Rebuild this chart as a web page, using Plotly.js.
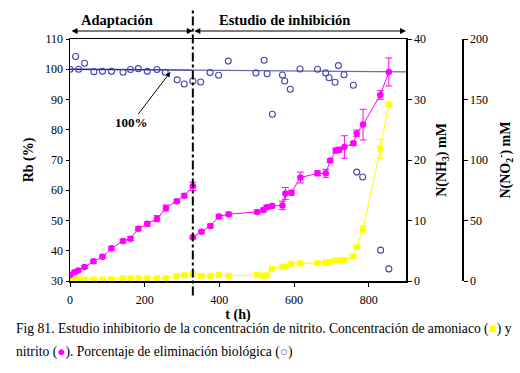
<!DOCTYPE html>
<html>
<head>
<meta charset="utf-8">
<script src="https://cdn.plot.ly/plotly-3.0.1.min.js"></script>
<style>html,body{margin:0;padding:0;background:#fff;}#chart{width:520px;height:373px;}</style>
</head>
<body>
<div id="chart"></div>
<script>
// ---- data ----
const rbTimes = [0,15,23,39,64,87,111,142,162,183,207,233,255,287,306,329,350,375,398,424,498,520,528,542,569,575,590,616,663,685,694,710,719,734,759,768,784,832,854];
const rbValues = [100,104.2,100,102,99.2,99.3,99.3,99,99.9,100.2,99.3,99.9,99,96.5,95.1,96.1,95.8,98.9,98,102.7,98.8,103,98.5,85.1,98.1,96.1,93.4,100.1,100,98.8,97.2,95.7,101.2,98.2,94.7,66,64.4,40.2,34];

const fitTimesA = [0,329];
const fitValuesA = [100,99.7];
const fitTimesB = [329,900];
const fitValuesB = [99.7,99.1];

const nitriteTimesA = [0,12,22,39,63,87,111,142,162,183,207,233,257,286,306,329];
const nitriteA = [5,7.25,8.75,11.5,16.25,20,27,33,35,43.25,47.25,51.5,60.25,66,70.5,78.25];
const nitriteErrA = [1.2,1.2,1.2,1.2,1.5,1.5,1.5,1.5,1.5,1.5,1.8,2.5,2.5,1.5,1.5,3.5];

const nitriteTimesB = [329,352,376,399,425,501,518,527,541,569,577,593,617,663,685,697,712,721,735,759,768,785,831,854];
const nitriteB = [36.25,40.75,45.5,53.25,55.25,57,58.75,61,62,62.5,72.25,73,85.5,89,89,99.5,107.75,108.5,110.75,113.75,122,129.25,153.75,172.75];
const nitriteErrB = [1.2,1.2,1.5,1.5,1.5,1.5,1.5,1.5,1.5,3.5,5,2,4.5,2,3.3,1.5,2,2,9.3,1.5,2.75,12.7,3.6,11.6];

const ammoniaTimes = [0,12,22,39,63,87,111,142,162,183,207,233,257,286,306,329,352,376,399,425,501,518,527,541,569,577,593,617,663,685,697,712,721,735,759,768,785,831,854];
const ammonia = [0.45,0.25,0.25,0.25,0.25,0.25,0.3,0.45,0.45,0.45,0.45,0.45,0.5,0.8,0.95,1.15,0.85,0.85,1.0,0.85,1.0,0.85,0.95,2.0,2.3,2.4,2.85,2.9,2.95,3.1,3.2,3.4,3.45,3.5,4.1,5.6,8.55,21.85,29.2];
const ammoniaErr = [0.15,0.15,0.15,0.15,0.15,0.15,0.15,0.15,0.15,0.15,0.15,0.15,0.15,0.15,0.15,0.3,0.15,0.15,0.15,0.15,0.15,0.15,0.15,0.15,0.15,0.15,0.15,0.15,0.15,0.15,0.15,0.15,0.15,0.15,0.2,0.25,0.58,1.55,0.3];

const xTicks = [0,200,400,600,800];
const phaseBoundary = 329;
const xMax = 900;

// ---- chart ----
const SERIF = 'Liberation Serif';
const MAG = '#ff00ff', YEL = '#ffff00', BLUE = '#4848a8';

const traces = [
  {x: fitTimesA, y: fitValuesA, type:'scatter', mode:'lines', line:{color:'#1c1c96', width:1.3}, hoverinfo:'skip', yaxis:'y'},
  {x: fitTimesB, y: fitValuesB, type:'scatter', mode:'lines', line:{color:'#6a6ab4', width:1.3}, hoverinfo:'skip', yaxis:'y'},
  {x: rbTimes, y: rbValues, type:'scatter', mode:'markers', yaxis:'y',
   marker:{symbol:'circle-open', size:6, color:BLUE, line:{width:1.1, color:BLUE}}},
  {x: ammoniaTimes, y: ammonia, type:'scatter', mode:'lines+markers', yaxis:'y2',
   line:{color:YEL, width:1}, marker:{symbol:'square', size:6, color:YEL},
   error_y:{type:'data', array: ammoniaErr, color:YEL, thickness:1, width:3.5}},
  {x: nitriteTimesA, y: nitriteA, type:'scatter', mode:'lines+markers', yaxis:'y3',
   line:{color:MAG, width:1}, marker:{symbol:'circle', size:6.5, color:MAG},
   error_y:{type:'data', array: nitriteErrA, color:MAG, thickness:1, width:3.5}},
  {x: nitriteTimesB, y: nitriteB, type:'scatter', mode:'lines+markers', yaxis:'y3',
   line:{color:MAG, width:1}, marker:{symbol:'circle', size:6.5, color:MAG},
   error_y:{type:'data', array: nitriteErrB, color:MAG, thickness:1, width:3.5}}
];

const axisBase = {showline:true, linecolor:'#000', linewidth:1.5, ticks:'outside', ticklen:4, tickcolor:'#000',
  showgrid:false, zeroline:false, automargin:false, tickfont:{family:SERIF, size:12, color:'#000'}};

const layout = {
  width:520, height:373,
  margin:{l:70, r:50, t:39, b:92, pad:0},
  paper_bgcolor:'#fff', plot_bgcolor:'#fff',
  showlegend:false,
  font:{family:SERIF, color:'#000'},
  xaxis: Object.assign({}, axisBase, {range:[0,xMax], domain:[0,0.84], tickvals:xTicks, mirror:true,
    ticklabelstandoff:3,
    title:{text:'<b>t (h)</b>', font:{family:SERIF, size:14}, standoff:0}}),
  yaxis: Object.assign({}, axisBase, {range:[30,110], dtick:10, ticklen:3,
    title:{text:'<b>Rb (%)</b>', font:{family:SERIF, size:14}, standoff:8}}),
  yaxis2: Object.assign({}, axisBase, {range:[0,40], dtick:10, overlaying:'y', side:'right', anchor:'x',
    title:{text:'<b>N(NH<sub>3</sub>) mM</b>', font:{family:SERIF, size:14}, standoff:11}}),
  yaxis3: Object.assign({}, axisBase, {range:[0,200], dtick:50, overlaying:'y', side:'right', anchor:'free', position:0.98,
    title:{text:'<b>N(NO<sub>2</sub><sup>-</sup>) mM</b>', font:{family:SERIF, size:14}, standoff:13}}),
  shapes:[
    {type:'line', xref:'x', yref:'paper', x0:phaseBoundary, x1:phaseBoundary, y0:-0.06, y1:1.13,
     line:{color:'#000', width:2, dash:'dashdot'}}
  ],
  annotations:[
    {xref:'x', yref:'paper', x:phaseBoundary, y:1.033, axref:'x', ayref:'pixel', ax:0, ay:0, text:'',
     showarrow:true, arrowside:'end+start', arrowhead:2, startarrowhead:2, arrowwidth:1.2, arrowsize:1, arrowcolor:'#000'},
    {xref:'x', yref:'paper', x:xMax, y:1.033, axref:'x', ayref:'pixel', ax:phaseBoundary, ay:0, text:'',
     showarrow:true, arrowside:'end+start', arrowhead:2, startarrowhead:2, arrowwidth:1.2, arrowsize:1, arrowcolor:'#000'},
    {xref:'x', yref:'paper', x:126, y:1.0785, text:'<b>Adaptación</b>', showarrow:false,
     font:{family:SERIF, size:14.5}, xanchor:'center', yanchor:'middle'},
    {xref:'x', yref:'paper', x:575, y:1.0785, text:'<b>Estudio de inhibición</b>', showarrow:false,
     font:{family:SERIF, size:14.5}, xanchor:'center', yanchor:'middle'},
    {xref:'x', yref:'y', x:269, y:99.1, ax:-39, ay:51, text:'<b>100%</b>', showarrow:true,
     arrowhead:2, arrowsize:1, arrowwidth:1, arrowcolor:'#000', font:{family:SERIF, size:13}},
    {xref:'paper', yref:'paper', x:-0.14, y:-0.198, xanchor:'left', yanchor:'middle', showarrow:false,
     text:'Fig 81. Estudio inhibitorio de la concentración de nitrito. Concentración de amoniaco (<span style="color:#ffff00">■</span>) y',
     font:{family:SERIF, size:13.6}},
    {xref:'paper', yref:'paper', x:-0.14, y:-0.295, xanchor:'left', yanchor:'middle', showarrow:false,
     text:'nitrito (<span style="color:#ff00ff">●</span>). Porcentaje de eliminación biológica (<span style="color:#4848a8">○</span>)',
     font:{family:SERIF, size:13.6}}
  ]
};

Plotly.newPlot('chart', traces, layout, {displayModeBar:false, staticPlot:true});
</script>
</body>
</html>
